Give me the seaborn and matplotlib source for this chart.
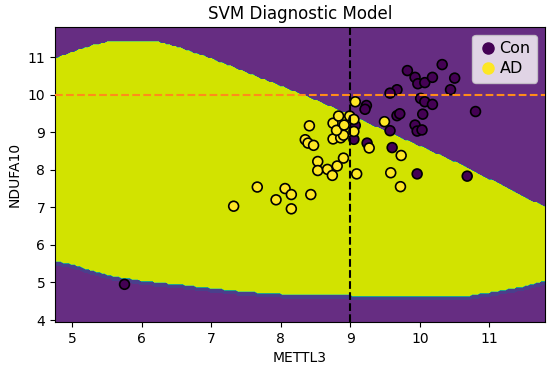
import numpy as np
import pandas as pd
import matplotlib
matplotlib.use("Agg")
import matplotlib.pyplot as plt
from matplotlib.lines import Line2D
import seaborn as sns

# sample values (METTL3, NDUFA10)
con_x = [5.75, 10.32, 9.82, 9.93, 9.97, 10.07, 10.18, 10.50, 10.44, 9.67,
         9.57, 10.01, 10.07, 10.18, 10.80, 9.23, 9.21, 9.67, 9.71, 10.04,
         9.93, 9.96, 10.03, 9.57, 9.07, 9.05, 9.24, 9.60, 9.96, 10.68]
con_y = [4.95, 10.80, 10.64, 10.46, 10.29, 10.32, 10.46, 10.44, 10.13, 10.13,
         10.04, 9.90, 9.81, 9.74, 9.55, 9.71, 9.61, 9.44, 9.49, 9.48,
         9.19, 9.03, 9.06, 9.04, 9.18, 8.81, 8.71, 8.59, 7.89, 7.83]
ad_x = [7.32, 7.66, 7.93, 8.06, 8.15, 8.15, 8.43, 8.35, 8.39, 8.47,
        8.41, 8.53, 8.53, 8.67, 8.74, 8.81, 8.90, 8.75, 8.86, 8.90,
        8.75, 8.80, 8.83, 8.91, 8.99, 9.05, 9.05, 9.07, 9.09, 9.27,
        9.49, 9.58, 9.73, 9.72]
ad_y = [7.03, 7.54, 7.20, 7.50, 7.34, 6.96, 7.34, 8.80, 8.71, 8.65,
        9.17, 8.22, 7.98, 8.01, 7.85, 8.10, 8.31, 8.82, 8.85, 8.92,
        9.24, 9.05, 9.43, 9.19, 9.43, 9.34, 9.02, 9.81, 7.89, 8.58,
        9.28, 7.92, 8.38, 7.55]

# decision region edges (AD region lies between them)
upper_x = [4.74, 5.0, 5.3, 5.55, 6.2, 6.5, 7.0, 7.5, 8.0, 8.5, 9.0, 9.5, 10.0, 10.5, 11.0, 11.5, 11.81]
upper_y = [10.95, 11.13, 11.31, 11.42, 11.42, 11.27, 10.95, 10.58, 10.22, 9.84, 9.44, 9.02, 8.62, 8.2, 7.74, 7.27, 6.98]
lower_x = [4.74, 5.0, 5.3, 5.57, 6.0, 6.5, 7.0, 7.5, 8.0, 9.0, 9.01, 10.7, 11.0, 11.5, 11.81]
lower_y = [5.59, 5.50, 5.32, 5.19, 5.06, 4.97, 4.86, 4.77, 4.71, 4.71, 4.66, 4.66, 4.75, 4.91, 5.06]

df = pd.DataFrame({
    "METTL3": con_x + ad_x,
    "NDUFA10": con_y + ad_y,
    "group": ["Con"] * len(con_x) + ["AD"] * len(ad_x),
})

x_min, x_max = min(df["METTL3"]) - 1, max(df["METTL3"]) + 1
y_min, y_max = min(df["NDUFA10"]) - 1, max(df["NDUFA10"]) + 1
h = 0.04
xx, yy = np.meshgrid(np.arange(x_min, x_max + h, h), np.arange(y_min, y_max + h, h))
up = np.interp(xx, upper_x, upper_y)
lo = np.interp(xx, lower_x, lower_y)
Z = ((yy < up) & (yy > lo)).astype(float)
# faint bluish fringe under the lower edge
Z[(yy <= lo) & (yy > lo - 0.12)] = 0.3

fig, ax = plt.subplots(figsize=(5.5, 3.7), dpi=100)
fig.subplots_adjust(left=0.1, right=0.991, top=0.927, bottom=0.13)

ax.contourf(xx, yy, Z, levels=[-0.1, 0.2, 0.4, 0.6, 0.8, 1.1],
            colors=["#662d82", "#4a3f8c", "#1fa38a", "#7ad151", "#d2e300"],
            antialiased=False)

palette = {"Con": "#440154", "AD": "#fde725"}
sns.scatterplot(data=df, x="METTL3", y="NDUFA10", hue="group", palette=palette,
                s=50, edgecolor="black", linewidth=1.2, legend=False, ax=ax, zorder=3)

ax.axvline(9, color="black", linestyle="--", linewidth=1.5, zorder=4)
ax.axhline(10, color="#ff8c1a", linestyle="--", linewidth=1.5, zorder=4)

ax.set_xlim(x_min, x_max)
ax.set_ylim(y_min, y_max)
ax.set_xticks([5, 6, 7, 8, 9, 10, 11])
ax.set_yticks([4, 5, 6, 7, 8, 9, 10, 11])
ax.set_xlabel("METTL3")
ax.set_ylabel("NDUFA10")
ax.set_title("SVM Diagnostic Model", fontsize=12)

handles = [Line2D([], [], marker="o", linestyle="", color=palette[g], markersize=8, label=g)
           for g in ["Con", "AD"]]
ax.legend(handles=handles, loc="upper right", fontsize=11.5, handletextpad=0.1,
          borderpad=0.4, labelspacing=0.3, handlelength=1.2)

plt.savefig("out.png", dpi=100)
plt.close()
